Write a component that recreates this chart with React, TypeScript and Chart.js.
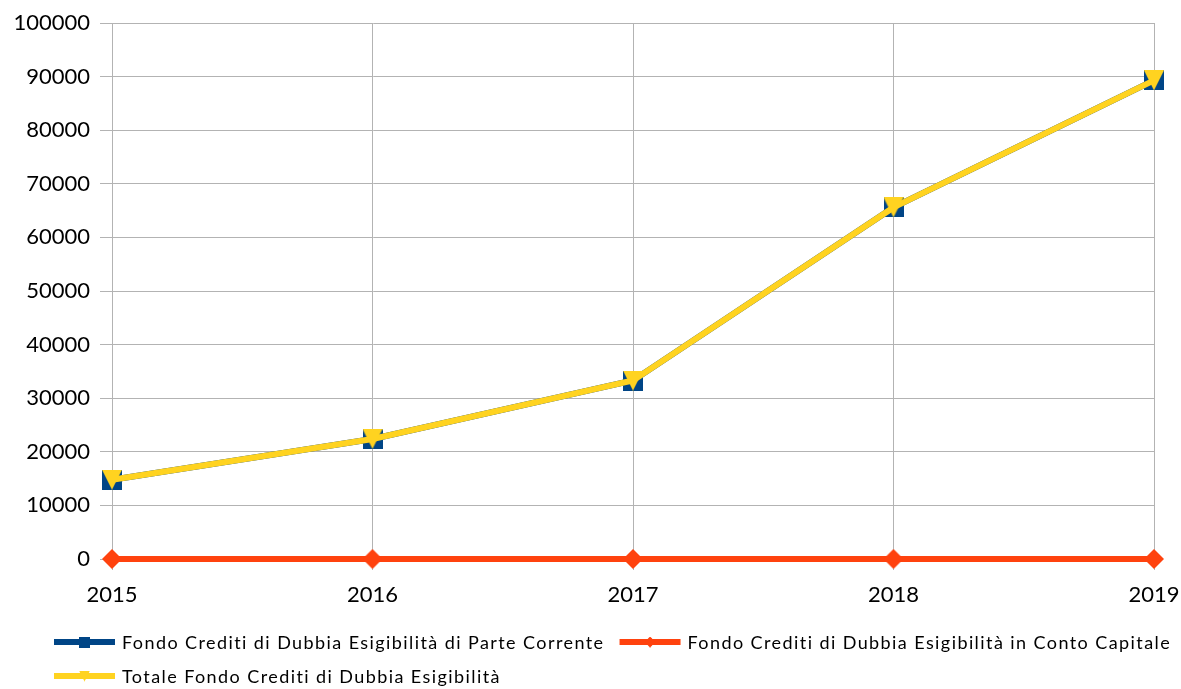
import React, { useEffect, useRef } from 'react';
import { Chart, registerables } from 'chart.js';

Chart.register(...registerables);

// ---- data ----
const years: string[] = ['2015', '2016', '2017', '2018', '2019'];
const parteCorrente: number[] = [14800, 22400, 33300, 65600, 89300];
const contoCapitale: number[] = [0, 0, 0, 0, 0];
const totale: number[] = [14800, 22400, 33300, 65600, 89300];
const seriesNames: string[] = [
  'Fondo Crediti di Dubbia Esigibilità di Parte Corrente',
  'Fondo Crediti di Dubbia Esigibilità in Conto Capitale',
  'Totale Fondo Crediti di Dubbia Esigibilità',
];
const yMin = 0;
const yMax = 100000;
const yStep = 10000;

// ---- styles ----
const BLUE = '#004586';
const ORANGE = '#ff420e';
const YELLOW = '#ffd320';
const GRID = '#b3b3b3';
const FONT = 'Lato, "Open Sans", "DejaVu Sans", sans-serif';

type Kind = 'square' | 'diamond' | 'triangleDown';

function makeMarker(kind: Kind, color: string, size: number): HTMLCanvasElement {
  const c = document.createElement('canvas');
  c.width = size;
  c.height = size;
  const g = c.getContext('2d')!;
  g.fillStyle = color;
  g.beginPath();
  if (kind === 'square') {
    g.rect(0, 0, size, size);
  } else if (kind === 'diamond') {
    g.moveTo(size / 2, 0);
    g.lineTo(size, size / 2);
    g.lineTo(size / 2, size);
    g.lineTo(0, size / 2);
    g.closePath();
  } else {
    g.moveTo(0, 0);
    g.lineTo(size, 0);
    g.lineTo(size / 2, size);
    g.closePath();
  }
  g.fill();
  return c;
}

const LEGEND_X = 54;
const LEGEND_Y = 642;
const LEGEND_ROW = 34;
const LEGEND_LINE = 61;
const LEGEND_TEXT_GAP = 7;
const LEGEND_ITEM_GAP = 15;

const lineLegend = {
  id: 'lineLegend',
  afterDraw(chart: any) {
    const ctx: any = chart.ctx;
    ctx.save();
    ctx.font = `18px ${FONT}`;
    ctx.letterSpacing = '1.42px';
    ctx.textBaseline = 'middle';
    ctx.textAlign = 'left';
    let x = LEGEND_X;
    let y = LEGEND_Y;
    const maxRight = chart.width - 2;
    chart.data.datasets.forEach((ds: any) => {
      const tw = ctx.measureText(ds.label).width;
      const w = LEGEND_LINE + LEGEND_TEXT_GAP + tw;
      if (x + w > maxRight && x > LEGEND_X) {
        x = LEGEND_X;
        y += LEGEND_ROW;
      }
      ctx.strokeStyle = ds.borderColor;
      ctx.lineWidth = 6;
      ctx.beginPath();
      ctx.moveTo(x, y);
      ctx.lineTo(x + LEGEND_LINE, y);
      ctx.stroke();
      const m = ds.legendMarker as HTMLCanvasElement;
      const ms = 11;
      ctx.drawImage(m, x + LEGEND_LINE / 2 - ms / 2, y - ms / 2, ms, ms);
      ctx.fillStyle = '#000';
      ctx.fillText(ds.label, x + LEGEND_LINE + LEGEND_TEXT_GAP, y + 1);
      x += w + LEGEND_ITEM_GAP;
    });
    ctx.restore();
  },
};

export default function App() {
  const ref = useRef<HTMLCanvasElement | null>(null);

  useEffect(() => {
    if (!ref.current) return;
    document.body.style.margin = '0';
    document.body.style.overflow = 'hidden';
    const sq = makeMarker('square', BLUE, 20);
    const di = makeMarker('diamond', ORANGE, 20);
    const tr = makeMarker('triangleDown', YELLOW, 20);

    const chart = new Chart(ref.current, {
      type: 'line',
      data: {
        labels: years,
        datasets: [
          {
            label: seriesNames[0],
            data: parteCorrente,
            borderColor: BLUE,
            backgroundColor: BLUE,
            borderWidth: 6,
            pointStyle: sq as any,
            pointRadius: 10,
            clip: false as any,
            order: 2,
            legendMarker: sq,
          } as any,
          {
            label: seriesNames[1],
            data: contoCapitale,
            borderColor: ORANGE,
            backgroundColor: ORANGE,
            borderWidth: 6,
            pointStyle: di as any,
            pointRadius: 10,
            clip: false as any,
            order: 1,
            legendMarker: di,
          } as any,
          {
            label: seriesNames[2],
            data: totale,
            borderColor: YELLOW,
            backgroundColor: YELLOW,
            borderWidth: 6,
            pointStyle: tr as any,
            pointRadius: 10,
            clip: false as any,
            order: 0,
            legendMarker: tr,
          } as any,
        ],
      },
      options: {
        animation: false,
        responsive: false,
        maintainAspectRatio: false,
        layout: { padding: { left: 0, top: 23, right: 27, bottom: 80 } },
        plugins: {
          legend: { display: false },
          tooltip: { enabled: false },
          title: { display: false },
        },
        elements: { line: { tension: 0 } },
        scales: {
          x: {
            offset: false,
            grid: { color: GRID, lineWidth: 1, tickLength: 11, drawTicks: true },
            border: { display: true, color: GRID },
            ticks: {
              color: '#000',
              font: { family: FONT, size: 22 },
              padding: 12,
              maxRotation: 0,
            },
            afterFit: (scale: any) => {
              scale.height = 50;
              scale.paddingLeft = 0;
              scale.paddingRight = 0;
            },
          },
          y: {
            min: yMin,
            max: yMax,
            grid: { color: GRID, lineWidth: 1, tickLength: 12 },
            border: { display: true, color: GRID },
            ticks: {
              stepSize: yStep,
              color: '#000',
              font: { family: FONT, size: 22 },
              padding: 10,
              callback: (v: any) => String(v),
            },
            afterFit: (scale: any) => {
              scale.width = 112;
              scale.paddingTop = 0;
              scale.paddingBottom = 0;
            },
          },
        },
      },
      plugins: [lineLegend],
    });
    return () => chart.destroy();
  }, []);

  return (
    <div style={{ width: '1181px', height: '689px' }}>
      <canvas ref={ref} width={1181} height={689} style={{ display: 'block', width: '1181px', height: '689px' }} />
    </div>
  );
}
